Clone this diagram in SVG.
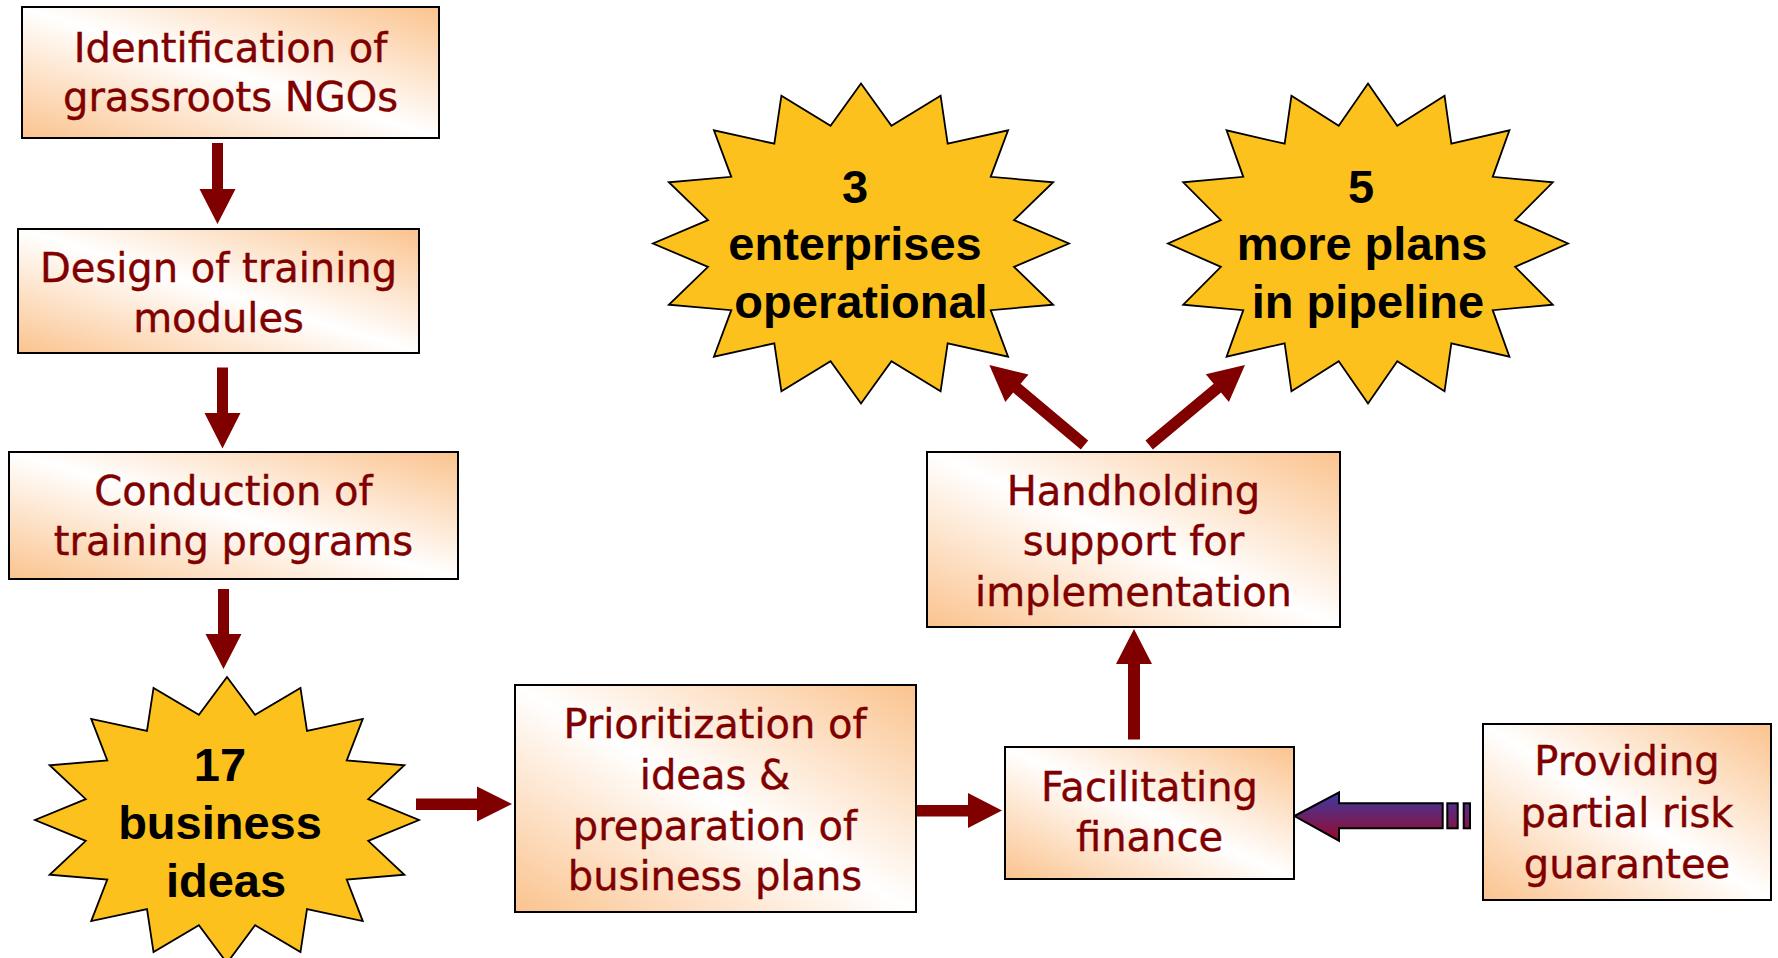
<svg xmlns="http://www.w3.org/2000/svg" width="1778" height="958" viewBox="0 0 1778 958">
<defs>
<linearGradient id="boxg" x1="0" y1="1" x2="1" y2="0">
<stop offset="0" stop-color="#FBC38E"/>
<stop offset="0.5" stop-color="#FFFFFF"/>
<stop offset="1" stop-color="#FBC38E"/>
</linearGradient>
<linearGradient id="purp" gradientUnits="userSpaceOnUse" x1="0" y1="792" x2="0" y2="841">
<stop offset="0" stop-color="#3A3AA8"/>
<stop offset="1" stop-color="#9A0A28"/>
</linearGradient>
<style>
.box{fill:url(#boxg);stroke:#000;stroke-width:2}
.lbl{font-family:"DejaVu Sans","Liberation Sans",sans-serif;font-size:40px;fill:#800000;stroke:#800000;stroke-width:0.4;text-anchor:middle}
.star{fill:#FCC11C;stroke:#000;stroke-width:1.8;stroke-linejoin:miter}
.stxt{font-family:"Liberation Sans",Arial,sans-serif;font-weight:bold;font-size:47px;fill:#000;text-anchor:middle}
.arr{fill:#800000}
.parr{fill:url(#purp);stroke:#000;stroke-width:2}
</style>
</defs>
<rect width="1778" height="958" fill="#FFFFFF"/>

<g id="connectors">
<polygon class="arr" points="212,143 223,143 223,189 235.5,189 217.5,224 199.5,189 212,189"/>
<polygon class="arr" points="217,367.5 228,367.5 228,413 240.5,413 222.5,448.5 204.5,413 217,413"/>
<polygon class="arr" points="218,589 229,589 229,634 241.5,634 223.5,669 205.5,634 218,634"/>
<polygon class="arr" points="416,798.5 477,798.5 477,786.5 512,804 477,821.5 477,810 416,810"/>
<polygon class="arr" points="917,805 968,805 968,793 1002,810.5 968,828 968,816.5 917,816.5"/>
<polygon class="arr" points="1128,739.5 1128,664 1116,664 1134,629 1152,664 1140,664 1140,739.5"/>
<polygon class="arr" transform="translate(1084.5,445) rotate(-139.96)" points="0,-5.75 88.3,-5.75 88.3,-18 124.3,0 88.3,18 88.3,5.75 0,5.75"/>
<polygon class="arr" transform="translate(1149.2,445) rotate(-39.87)" points="0,-5.75 88.8,-5.75 88.8,-18 124.8,0 88.8,18 88.8,5.75 0,5.75"/>
<g id="risk-arrow">
<polygon class="parr" points="1294.5,816 1339,792.3 1339,803.3 1442.7,803.3 1442.7,828.3 1339,828.3 1339,840.7"/>
<rect class="parr" x="1447.3" y="803.3" width="10.4" height="25"/>
<rect class="parr" x="1463.7" y="803.3" width="6.3" height="25"/>
</g>
</g>

<g id="n1">
<rect class="box" x="22" y="7" width="417" height="131"/>
<text class="lbl" x="230.5" y="62">Identification of</text>
<text class="lbl" x="230.5" y="111">grassroots NGOs</text>
</g>
<g id="n2">
<rect class="box" x="18" y="229" width="401" height="124"/>
<text class="lbl" x="218.5" y="282">Design of training</text>
<text class="lbl" x="218.5" y="332">modules</text>
</g>
<g id="n3">
<rect class="box" x="9" y="452" width="449" height="127"/>
<text class="lbl" x="233.5" y="505">Conduction of</text>
<text class="lbl" x="233.5" y="555">training programs</text>
</g>
<g id="n4">
<polygon class="star" points="227,677 255.09,714.81 300.47,687.89 307,730.83 362.77,718.88 346.73,760.42 404.38,765.28 368.23,799.08 419,820 368.23,840.92 404.38,874.72 346.73,879.58 362.77,921.12 307,909.17 300.47,952.11 255.09,925.19 227,963 198.91,925.19 153.53,952.11 147,909.17 91.23,921.12 107.27,879.58 49.62,874.72 85.77,840.92 35,820 85.77,799.08 49.62,765.28 107.27,760.42 91.23,718.88 147,730.83 153.53,687.89 198.91,714.81"/>
<text class="stxt" x="220" y="781">17</text>
<text class="stxt" x="220" y="839">business</text>
<text class="stxt" x="226" y="897">ideas</text>
</g>
<g id="n5">
<rect class="box" x="515" y="685" width="401" height="227"/>
<text class="lbl" x="715" y="738">Prioritization of</text>
<text class="lbl" x="715" y="789">ideas &amp;</text>
<text class="lbl" x="715" y="840">preparation of</text>
<text class="lbl" x="715" y="890">business plans</text>
</g>
<g id="n6">
<rect class="box" x="1005" y="747" width="289" height="132"/>
<text class="lbl" x="1149.5" y="801">Facilitating</text>
<text class="lbl" x="1149.5" y="851">finance</text>
</g>
<g id="n7">
<rect class="box" x="1483" y="724" width="288" height="176"/>
<text class="lbl" x="1627" y="775">Providing</text>
<text class="lbl" x="1627" y="827">partial risk</text>
<text class="lbl" x="1627" y="878">guarantee</text>
</g>
<g id="n8">
<rect class="box" x="927" y="452" width="413" height="175"/>
<text class="lbl" x="1133.5" y="505">Handholding</text>
<text class="lbl" x="1133.5" y="555">support for</text>
<text class="lbl" x="1133.5" y="606">implementation</text>
</g>
<g id="n9">
<polygon class="star" points="861,83.5 891.43,125.81 940.6,95.68 947.67,143.72 1008.08,130.36 990.71,176.83 1053.17,182.27 1014,220.09 1069,243.5 1014,266.91 1053.17,304.73 990.71,310.17 1008.08,356.64 947.67,343.28 940.6,391.32 891.43,361.19 861,403.5 830.57,361.19 781.4,391.32 774.33,343.28 713.92,356.64 731.29,310.17 668.83,304.73 708,266.91 653,243.5 708,220.09 668.83,182.27 731.29,176.83 713.92,130.36 774.33,143.72 781.4,95.68 830.57,125.81"/>
<text class="stxt" x="855" y="203">3</text>
<text class="stxt" x="855" y="260">enterprises</text>
<text class="stxt" x="861" y="318">operational</text>
</g>
<g id="n10">
<polygon class="star" points="1368,83.5 1397.26,125.81 1444.54,95.68 1451.34,143.72 1509.42,130.36 1492.72,176.83 1552.78,182.27 1515.12,220.09 1568,243.5 1515.12,266.91 1552.78,304.73 1492.72,310.17 1509.42,356.64 1451.34,343.28 1444.54,391.32 1397.26,361.19 1368,403.5 1338.74,361.19 1291.46,391.32 1284.66,343.28 1226.58,356.64 1243.28,310.17 1183.22,304.73 1220.88,266.91 1168,243.5 1220.88,220.09 1183.22,182.27 1243.28,176.83 1226.58,130.36 1284.66,143.72 1291.46,95.68 1338.74,125.81"/>
<text class="stxt" x="1361" y="203">5</text>
<text class="stxt" x="1362" y="260">more plans</text>
<text class="stxt" x="1368" y="318">in pipeline</text>
</g>
</svg>
